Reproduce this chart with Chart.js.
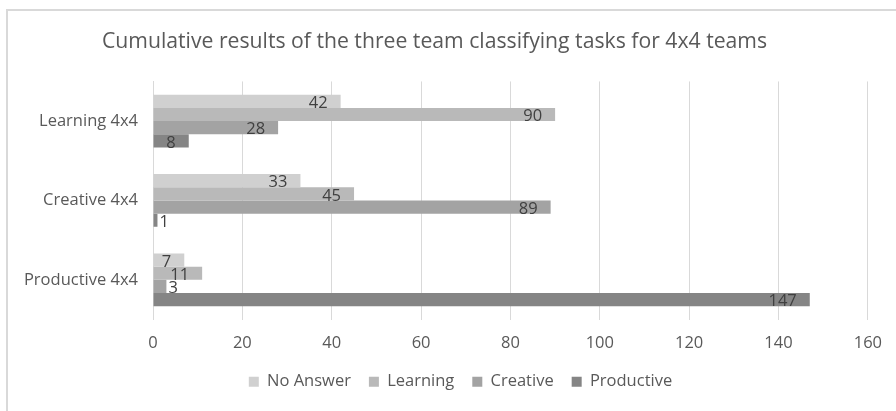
<!DOCTYPE html>
<html>
<head>
<meta charset="utf-8">
<script src="https://cdn.jsdelivr.net/npm/chart.js@4.4.1/dist/chart.umd.min.js"></script>
<style>
  html, body { margin: 0; padding: 0; background: #fff; }
  #wrap { position: relative; width: 896px; height: 411px; }
  #frame { position: absolute; left: 6px; top: 9px; width: 900px; height: 420px;
           border-left: 2px solid #d9d9d9; border-top: 2px solid #d9d9d9; box-sizing: border-box; }
  canvas { position: absolute; left: 0; top: 0; }
</style>
</head>
<body>
<div id="wrap">
  <div id="frame"></div>
  <canvas id="myChart" width="896" height="411"></canvas>
</div>
<script>
"use strict";
const categories = ['Learning 4x4', 'Creative 4x4', 'Productive 4x4'];
const seriesNames = ['No Answer', 'Learning', 'Creative', 'Productive'];
const noAnswer = [42, 33, 7];
const learning = [90, 45, 11];
const creative = [28, 89, 3];
const productive = [8, 1, 147];
const xTicks = [0, 20, 40, 60, 80, 100, 120, 140, 160];

const fontFamily = '"Open Sans", "Liberation Sans", sans-serif';

// labels drawn like Excel's "inside end"
const barLabels = {
    id: 'barLabels',
    afterDatasetsDraw(chart) {
        const c = chart.ctx;
        c.save();
        c.font = '16.5px ' + fontFamily;
        c.fillStyle = '#404040';
        c.textBaseline = 'middle';
        chart.data.datasets.forEach(function(ds, i) {
            const meta = chart.getDatasetMeta(i);
            meta.data.forEach(function(bar, j) {
                const txt = String(ds.data[j]);
                const w = c.measureText(txt).width;
                const len = bar.x - bar.base;
                const y = bar.y + 2;
                if (len > w + 14) {
                    c.textAlign = 'right';
                    c.fillText(txt, bar.x - 13, y);
                } else {
                    c.textAlign = 'left';
                    c.fillText(txt, bar.x + 2, y);
                }
            });
        });
        c.restore();
    }
};

// legend sits a bit right of centre in the original
const legendShift = {
    id: 'legendShift',
    afterLayout(chart) {
        chart.legend.left += 26;
        chart.legend.right += 26;
    }
};

const ctx = document.getElementById('myChart');
var myChart = new Chart(ctx, {
    type: 'bar',
    data: {
        labels: categories,
        datasets: [{
                label: seriesNames[0],
                data: noAnswer,
                backgroundColor: '#d0d0d0'
            },
            {
                label: seriesNames[1],
                data: learning,
                backgroundColor: '#b9b9b9'
            },
            {
                label: seriesNames[2],
                data: creative,
                backgroundColor: '#a3a3a3'
            },
            {
                label: seriesNames[3],
                data: productive,
                backgroundColor: '#858585'
            }
        ]
    },
    options: {
        indexAxis: 'y',
        responsive: false,
        animation: false,
        devicePixelRatio: 1,
        categoryPercentage: 0.665,
        barPercentage: 1,
        layout: { padding: { left: 0, right: 27, top: 0, bottom: 11 } },
        plugins: {
            title: {
                display: true,
                text: 'Cumulative results of the three team classifying tasks for 4x4 teams',
                color: '#595959',
                font: { family: fontFamily, size: 21.2, weight: 'normal' },
                padding: { top: 29, bottom: 27 }
            },
            legend: {
                position: 'bottom',
                labels: {
                    color: '#595959',
                    font: { family: fontFamily, size: 16.5 },
                    boxWidth: 10,
                    boxHeight: 10,
                    padding: 18
                }
            },
            tooltip: { enabled: false }
        },
        scales: {
            x: {
                min: 0,
                max: 160,
                afterBuildTicks(scale) {
                    scale.ticks = xTicks.map(function(v) { return { value: v }; });
                },
                afterFit(scale) { scale.height = 36; },
                grid: { color: '#d9d9d9', lineWidth: 1, drawTicks: false },
                border: { display: false },
                ticks: {
                    color: '#595959',
                    font: { family: fontFamily, size: 16.5 },
                    padding: 14
                }
            },
            y: {
                afterFit(scale) { scale.width = 153; },
                grid: { display: false, drawTicks: false },
                border: { display: true, color: '#d9d9d9' },
                ticks: {
                    color: '#595959',
                    font: { family: fontFamily, size: 16.5 },
                    padding: 15
                }
            }
        }
    },
    plugins: [barLabels, legendShift]
});
</script>
</body>
</html>
